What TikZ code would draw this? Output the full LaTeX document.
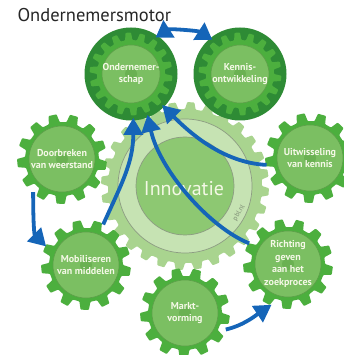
\documentclass[tikz,border=0pt]{standalone}
\usepackage{fontspec}
\setmainfont{PT Sans}
\usetikzlibrary{arrows.meta,calc}
\pgfdeclarelayer{background}
\pgfsetlayers{background,main}

\definecolor{gearGreen}{HTML}{4CAF3E}
\definecolor{innerGreen}{HTML}{7BBF62}
\definecolor{hubGreen}{HTML}{6AB152}
\definecolor{ringLine}{HTML}{5E9F4A}
\definecolor{darkGreen}{HTML}{2E8B35}
\definecolor{paleGear}{HTML}{A9D48F}
\definecolor{paleRing}{HTML}{C6E3B3}
\definecolor{paleInner}{HTML}{8DC872}
\definecolor{paleLine}{HTML}{8C9C82}
\definecolor{arrowBlue}{HTML}{1565B8}
\definecolor{labelWhite}{HTML}{F4F8E6}
\definecolor{titleGray}{HTML}{262626}
\definecolor{pblGray}{HTML}{7D8C74}

% gear outline: centre, teeth, root radius, tip radius, colour
\newcommand{\gearshape}[5]{%
  \fill[#5, shift={(#1)}, rounded corners=0.8pt] (0:#3)
    \foreach \k in {1,...,#2}{
      -- ({(\k-0.62)*360/#2}:#3) -- ({(\k-0.5)*360/#2}:#4)
      -- ({(\k-0.12)*360/#2}:#4) -- ({\k*360/#2}:#3)} -- cycle;
}
\newcommand{\smallgear}[1]{%
  \gearshape{#1.center}{13}{37}{45}{gearGreen}
  \filldraw[fill=innerGreen, draw=ringLine, line width=0.6pt] (#1.center) circle (33);
  \fill[hubGreen] (#1.center) circle (6);
}
\newcommand{\topgear}[1]{%
  \fill[darkGreen] (#1.center) circle (46.5);
  \gearshape{#1.center}{18}{34}{41.5}{gearGreen}
  \filldraw[fill=innerGreen, draw=ringLine, line width=0.6pt] (#1.center) circle (29);
  \fill[hubGreen] (#1.center) circle (6);
}

\tikzset{
  gearlabel/.style={circle, minimum size=88pt, inner sep=0pt, outer sep=0pt,
    align=center, text=labelWhite, font=\bfseries\fontsize{10}{12.5}\selectfont},
  flow/.style={draw=arrowBlue, line width=3.8pt,
    -{Triangle[length=17pt, width=19pt]}},
  twoway/.style={draw=arrowBlue, line width=3.8pt,
    {Triangle[length=16pt, width=20pt]}-{Triangle[length=16pt, width=20pt]}}
}

\begin{document}
\begin{tikzpicture}[x=1pt, y=1pt]
  \useasboundingbox (0,0) rectangle (344,355);

  \node[anchor=base west, text=titleGray, font=\fontsize{18.5}{21}\selectfont] (title) at (14,333) {Ondernemersmotor};

  % gears
  \coordinate (hub) at (185,169);
  \node[text=labelWhite, font=\fontsize{20}{24}\selectfont] (inno) at (184,166) {Innovatie};
  \node[rotate=59, text=pblGray, font=\fontsize{7}{8}\selectfont] (pbl) at (239,142) {pbl.nl};

  \node[gearlabel] (ond) at (131,281) {Ondernemer-\\schap};
  \node[gearlabel] (ken) at (240,281) {Kennis-\\ontwikkeling};
  \node[gearlabel] (door) at (62,196) {Doorbreken\\van weerstand};
  \node[gearlabel] (uit) at (310,197) {Uitwisseling\\van kennis};
  \node[gearlabel] (mob) at (86,90) {Mobiliseren\\van middelen};
  \node[gearlabel] (richt) at (288,91) {Richting\\geven\\aan het\\zoekproces};
  \node[gearlabel] (markt) at (185,42) {Markt-\\vorming};

  \begin{pgfonlayer}{background}
    \gearshape{hub}{28}{77}{84}{paleGear}
    \filldraw[fill=paleRing, draw=paleLine, line width=0.7pt] (hub) circle (67);
    \filldraw[fill=paleInner, draw=paleLine, line width=0.7pt] (hub) circle (49);
    \smallgear{door}
    \smallgear{uit}
    \smallgear{mob}
    \smallgear{richt}
    \smallgear{markt}
    \topgear{ond}
    \topgear{ken}
  \end{pgfonlayer}

  % arrows
  \draw[twoway] (ond.56) .. controls +(14,9) and +(-14,9) .. (ken.129);
  \draw[flow] (mob.67) .. controls +(18,40) and +(0,-45) .. (ond.-87);
  \draw[flow] (richt.152) .. controls +(-40,16) and +(12,-55) .. (ond.-68);
  \draw[flow] (uit.189) .. controls +(-45,2) and +(25,-25) .. (ond.-45);
  \draw[flow] (door.-131) .. controls +(0,-28) and +(-12,12) .. (mob.155);
  \draw[flow] (markt.-22) .. controls +(18,4) and +(-15,-10) .. (richt.-112);
\end{tikzpicture}
\end{document}
